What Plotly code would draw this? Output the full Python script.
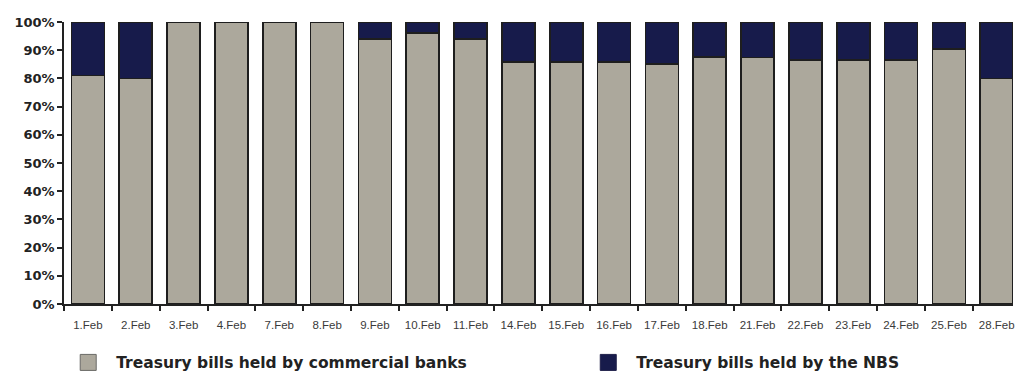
import plotly.graph_objects as go

categories = ["1.Feb", "2.Feb", "3.Feb", "4.Feb", "7.Feb", "8.Feb", "9.Feb", "10.Feb",
              "11.Feb", "14.Feb", "15.Feb", "16.Feb", "17.Feb", "18.Feb", "21.Feb",
              "22.Feb", "23.Feb", "24.Feb", "25.Feb", "28.Feb"]
commercial_banks = [81.0, 80.0, 100, 100, 100, 100, 93.9, 96.1, 93.9, 85.9, 85.8, 85.8,
                    85.2, 87.5, 87.4, 86.6, 86.5, 86.5, 90.4, 80.0]
nbs = [round(100 - v, 1) for v in commercial_banks]
y_ticks = [0, 10, 20, 30, 40, 50, 60, 70, 80, 90, 100]
y_tick_labels = [f"{v}%" for v in y_ticks]
series_names = ["Treasury bills held by commercial banks", "Treasury bills held by the NBS"]

GRAY = "#aca89c"
NAVY = "#171b4b"
OUTLINE = "#1e1e1e"
FONT = "Arial, Liberation Sans, sans-serif"
BOLD_FONT = "DejaVu Sans, Arial, sans-serif"

fig = go.Figure()
fig.add_trace(go.Bar(x=categories, y=commercial_banks, name=series_names[0], showlegend=False,
                     marker=dict(color=GRAY, line=dict(color=OUTLINE, width=1.6))))
fig.add_trace(go.Bar(x=categories, y=nbs, name=series_names[1], showlegend=False,
                     marker=dict(color=NAVY, line=dict(color=OUTLINE, width=1.6))))

# legend entries (no data drawn) with larger square swatches
fig.add_trace(go.Scatter(x=[None], y=[None], mode="markers", name=series_names[0],
                         legend="legend",
                         marker=dict(symbol="square", size=16, color=GRAY,
                                     line=dict(color="#6a6a66", width=1))))
fig.add_trace(go.Scatter(x=[None], y=[None], mode="markers", name=series_names[1],
                         legend="legend2",
                         marker=dict(symbol="square", size=16, color=NAVY,
                                     line=dict(color="#20204a", width=1))))

legend_font = dict(family=BOLD_FONT, size=15.5, color="#222", weight="bold")
legend_common = dict(orientation="h", yref="container", yanchor="middle", y=0.022,
                     xanchor="left", itemwidth=46, font=legend_font,
                     bgcolor="rgba(0,0,0,0)", itemsizing="trace")

fig.update_layout(
    width=1015, height=371,
    barmode="stack", bargap=0.31,
    paper_bgcolor="white", plot_bgcolor="white",
    margin=dict(l=64, r=0, t=22, b=67),
    font=dict(family=FONT, color="#222"),
    showlegend=True,
    legend=dict(x=-0.004, **legend_common),
    legend2=dict(x=0.544, **legend_common),
    xaxis=dict(range=[-0.5, 19.34], showline=True, linecolor="#222", linewidth=1.5,
               ticks="outside", ticklen=5, tickwidth=1.5, tickcolor="#222",
               tickson="boundaries", ticklabelstandoff=9,
               tickfont=dict(family=FONT, size=11.5, color="#3a3a3a"),
               showgrid=False, zeroline=False, fixedrange=True),
    yaxis=dict(range=[0, 100], tickvals=y_ticks, ticktext=y_tick_labels,
               showline=True, linecolor="#222", linewidth=1.5,
               ticks="outside", ticklen=5, tickwidth=1.5, tickcolor="#222",
               tickfont=dict(family=BOLD_FONT, size=13, color="#222", weight="bold"),
               showgrid=False, zeroline=False, fixedrange=True),
)

fig.write_html("out.html")
